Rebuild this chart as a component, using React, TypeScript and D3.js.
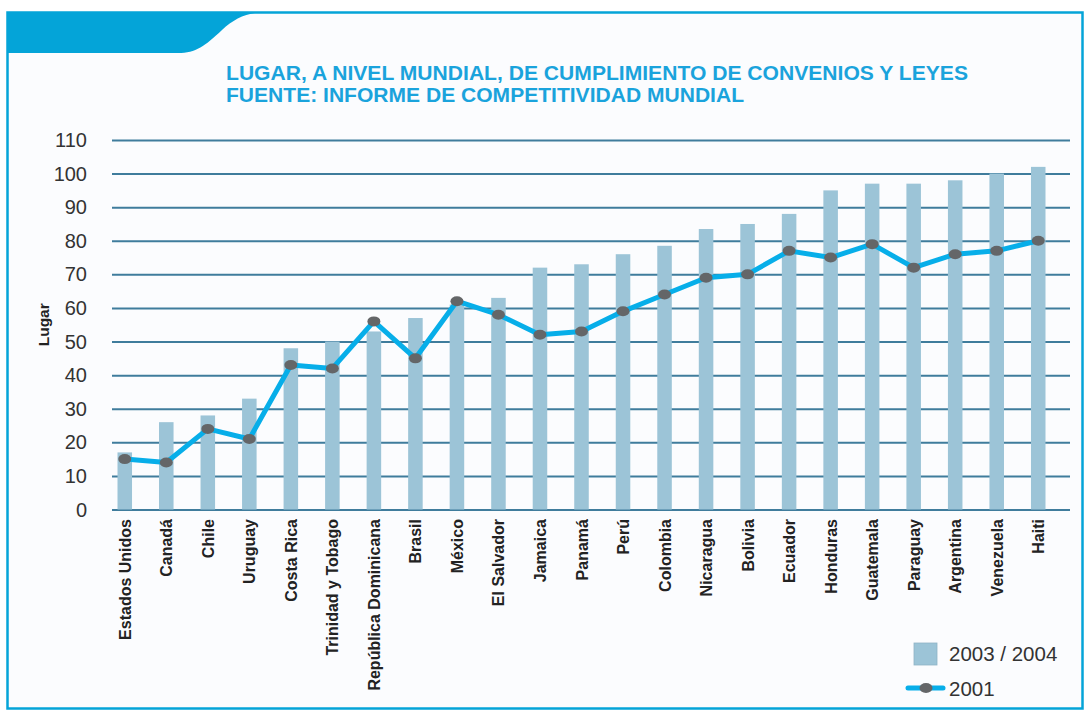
import React, { useEffect, useRef } from 'react';
import * as d3 from 'd3';

const countries = [
  'Estados Unidos', 'Canadá', 'Chile', 'Uruguay', 'Costa Rica', 'Trinidad y Tobago',
  'República Dominicana', 'Brasil', 'México', 'El Salvador', 'Jamaica', 'Panamá',
  'Perú', 'Colombia', 'Nicaragua', 'Bolivia', 'Ecuador', 'Honduras', 'Guatemala',
  'Paraguay', 'Argentina', 'Venezuela', 'Haiti',
];
// 2003 / 2004 ranking (bars)
const rank2003 = [17, 26, 28, 33, 48, 50, 53, 57, 61, 63, 72, 73, 76, 78.5, 83.5, 85, 88, 95, 97, 97, 98, 100, 102];
// 2001 ranking (line)
const rank2001 = [15, 14, 24, 21, 43, 42, 56, 45, 62, 58, 52, 53, 59, 64, 69, 70, 77, 75, 79, 72, 76, 77, 80];
const yTicks = [0, 10, 20, 30, 40, 50, 60, 70, 80, 90, 100, 110];

const W = 1089;
const H = 712;

export default function App() {
  const svgRef = useRef<SVGSVGElement>(null);

  useEffect(() => {
    const svg = d3.select(svgRef.current);
    svg.selectAll('*').remove();

    const blue = '#04a4d8';
    const font = 'Liberation Sans, Arial, sans-serif';

    // frame
    svg.append('rect').attr('x', 0).attr('y', 0).attr('width', W).attr('height', H).attr('fill', '#ffffff');
    svg.append('rect')
      .attr('x', 7.5).attr('y', 12.5).attr('width', 1075).attr('height', 696)
      .attr('fill', '#fbfcfe').attr('stroke', blue).attr('stroke-width', 2.5);

    // header tab
    svg.append('path')
      .attr('d', 'M7,12 L268,12 C248,12 235,18 222,30 C205,46 196,53 178,53 L7,53 Z')
      .attr('fill', blue);

    // title
    const title = svg.append('text')
      .attr('font-family', font).attr('font-weight', 'bold').attr('font-size', 20.5)
      .attr('fill', '#1aa3dc');
    title.append('tspan').attr('x', 226).attr('y', 80).attr('textLength', 742).attr('lengthAdjust', 'spacingAndGlyphs')
      .text('LUGAR, A NIVEL MUNDIAL, DE CUMPLIMIENTO DE CONVENIOS Y LEYES');
    title.append('tspan').attr('x', 226).attr('y', 102).attr('textLength', 518).attr('lengthAdjust', 'spacingAndGlyphs')
      .text('FUENTE: INFORME DE COMPETITIVIDAD MUNDIAL');

    const y = d3.scaleLinear().domain([0, 110]).range([509.5, 140]);
    const x = d3.scaleBand<string>().domain(countries).range([104, 1059]).paddingInner(0.65).paddingOuter(0.325);

    // gridlines
    svg.append('g')
      .attr('transform', 'translate(112,0)')
      .call(d3.axisLeft(y).tickValues(yTicks).tickSize(-958).tickFormat(() => ''))
      .call(g => g.select('.domain').remove())
      .call(g => g.selectAll('line').attr('stroke', '#3f7c9c').attr('stroke-width', 2));

    // y tick labels
    svg.append('g').selectAll('text').data(yTicks).join('text')
      .attr('x', 87).attr('y', d => y(d) + 7)
      .attr('text-anchor', 'end')
      .attr('font-family', font).attr('font-size', 20).attr('fill', '#333')
      .text(d => d);

    svg.append('text')
      .attr('transform', `translate(49,${y(55)}) rotate(-90)`)
      .attr('text-anchor', 'middle')
      .attr('font-family', font).attr('font-weight', 'bold').attr('font-size', 15.5).attr('fill', '#222')
      .text('Lugar');

    // bars
    svg.append('g').selectAll('rect').data(rank2003).join('rect')
      .attr('x', (d, i) => x(countries[i])!)
      .attr('y', d => y(d))
      .attr('width', x.bandwidth())
      .attr('height', d => y(0) - y(d))
      .attr('fill', '#9cc4d7');

    // line
    const cx = (i: number) => x(countries[i])! + x.bandwidth() / 2;
    const line = d3.line<number>().x((d, i) => cx(i)).y(d => y(d));
    svg.append('path').datum(rank2001)
      .attr('d', line).attr('fill', 'none').attr('stroke', '#07aee9').attr('stroke-width', 5)
      .attr('stroke-linejoin', 'round');
    svg.append('g').selectAll('ellipse').data(rank2001).join('ellipse')
      .attr('cx', (d, i) => cx(i)).attr('cy', d => y(d))
      .attr('rx', 6.5).attr('ry', 5).attr('fill', '#646668');

    // x labels
    svg.append('g').selectAll('text').data(countries).join('text')
      .attr('transform', (d, i) => `translate(${cx(i) + 6},519) rotate(-90)`)
      .attr('text-anchor', 'end')
      .attr('font-family', font).attr('font-weight', 'bold').attr('font-size', 16).attr('fill', '#222')
      .text(d => d);

    // legend
    const lg = svg.append('g').attr('font-family', font).attr('font-size', 20.5).attr('fill', '#333');
    lg.append('rect').attr('x', 914).attr('y', 643).attr('width', 23).attr('height', 22)
      .attr('fill', '#9cc4d7').attr('stroke', '#8fb3c6').attr('stroke-width', 0.8);
    lg.append('text').attr('x', 949).attr('y', 661).text('2003 / 2004');
    lg.append('line').attr('x1', 908).attr('x2', 943).attr('y1', 688).attr('y2', 688)
      .attr('stroke', '#07aee9').attr('stroke-width', 5).attr('stroke-linecap', 'round');
    lg.append('ellipse').attr('cx', 926).attr('cy', 688).attr('rx', 6.5).attr('ry', 5).attr('fill', '#646668');
    lg.append('text').attr('x', 949).attr('y', 696).text('2001');
  }, []);

  return (
    <div style={{ position: 'absolute', left: 0, top: 0 }}>
      <svg ref={svgRef} width={W} height={H} style={{ display: 'block' }} />
    </div>
  );
}
